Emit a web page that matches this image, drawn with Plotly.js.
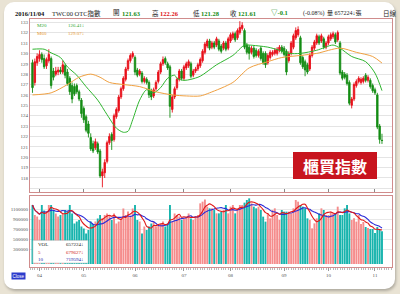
<!DOCTYPE html>
<html><head><meta charset="utf-8">
<script src="https://cdn.plot.ly/plotly-3.0.1.min.js"></script>
<style>
html,body{margin:0;padding:0;width:400px;height:294px;overflow:hidden;background:#e9e3d4;}
#panel{position:absolute;left:4px;top:2px;width:391px;height:287px;background:#fff;border-radius:10px;box-shadow:1px 2px 3px rgba(0,0,0,0.25);}
#chart{position:absolute;left:0;top:0;width:400px;height:294px;}
</style></head><body>
<div id="panel"></div><div id="chart"></div>
<script>
// ---- data (daily candles, index 0 = late March 2016, last = 2016/11/04) ----
const openP = [129.1,127.2,129.1,129.5,129.9,129.5,128.8,129.3,129.5,128.3,128.0,128.2,128.4,128.2,128.8,128.2,127.6,126.9,126.8,126.9,
126.3,125.5,124.7,123.9,123.2,121.9,121.3,120.9,121.3,120.6,118.2,118.5,119.6,121.4,122.2,121.7,123.9,124.5,125.8,126.6,
127.5,128.5,129.3,129.7,129.6,128.4,128.0,128.1,127.3,127.5,127.2,126.4,125.9,126.6,127.3,128.2,129.0,129.5,129.0,128.7,
124.6,125.8,126.7,127.5,128.3,127.6,128.6,128.8,129.0,127.9,128.3,128.5,128.8,129.3,130.1,130.7,131.2,130.6,131.0,130.8,
131.2,130.7,130.5,131.0,130.5,131.2,131.5,131.9,131.5,132.0,132.4,132.2,130.8,130.6,130.1,130.5,130.3,129.8,130.5,130.0,
130.0,129.1,129.6,129.9,130.0,130.0,130.3,130.6,130.5,130.2,129.3,130.0,130.6,131.5,131.8,131.5,129.6,129.2,128.9,128.5,
129.8,130.5,131.0,131.6,131.2,131.4,130.6,131.0,131.4,131.6,131.8,131.3,131.0,128.2,128.0,127.9,127.2,125.0,125.6,126.9,
127.3,127.2,127.3,127.9,127.4,127.4,126.9,126.5,126.0,123.0,121.63];
const highP = [129.4,129.5,130.0,130.3,130.1,129.9,129.6,130.4,129.7,128.6,128.7,128.7,128.7,129.3,129.0,128.5,127.8,127.2,127.1,127.1,
126.5,125.7,124.9,124.1,123.5,122.3,121.6,121.8,121.5,120.8,118.9,119.8,121.6,122.3,122.4,124.2,124.8,126.0,126.8,127.8,
128.7,129.5,130.0,130.2,129.8,128.6,128.5,128.3,127.8,127.7,127.4,126.6,126.7,127.4,128.4,129.2,129.7,129.7,129.2,128.9,
126.0,126.8,127.7,128.5,128.5,128.9,129.2,129.4,129.2,128.5,128.7,129.1,129.6,130.4,131.1,131.4,131.4,131.2,131.2,131.6,
131.4,130.9,131.2,131.2,131.6,132.0,132.1,132.1,132.4,133.1,133.0,132.4,131.0,130.8,130.7,130.7,130.5,130.4,130.7,130.2,
130.2,130.0,130.3,130.3,130.5,130.6,130.8,130.8,130.7,130.4,130.2,131.2,131.9,132.5,132.6,131.7,129.8,129.4,129.1,130.0,
130.8,131.3,131.9,131.8,131.9,131.6,131.2,131.8,132.0,132.1,132.0,132.2,131.2,128.4,128.2,128.1,127.4,125.8,127.2,127.5,
127.8,127.7,127.8,128.1,127.9,127.6,127.1,126.7,126.2,123.2,122.26];
const lowP = [126.2,126.9,128.8,129.2,129.1,128.5,128.5,129.1,126.6,127.4,127.8,127.9,128.0,128.0,127.6,126.9,126.0,125.2,125.9,126.1,
125.4,123.8,123.3,122.4,121.9,120.6,120.4,120.7,120.3,118.0,117.1,118.0,119.4,121.2,120.7,121.5,123.7,124.3,125.6,126.4,
127.3,128.3,129.1,129.5,127.9,127.7,127.8,127.1,127.1,127.0,125.7,125.5,125.7,126.4,127.1,128.0,128.8,128.9,128.4,123.8,
124.3,125.6,126.5,127.3,127.4,127.4,128.4,128.6,127.6,127.7,128.1,128.3,128.6,129.1,129.9,130.5,130.3,130.4,130.4,130.6,
130.2,130.0,130.3,130.2,130.3,131.0,131.3,131.1,131.3,131.8,132.2,130.4,129.9,129.4,129.9,129.5,129.6,129.6,129.3,128.9,
128.6,128.9,129.4,129.7,129.8,129.8,130.1,130.0,129.7,127.9,129.1,129.8,130.4,131.3,131.6,128.9,128.5,127.8,128.0,128.3,
129.6,130.3,130.8,130.8,131.0,130.4,130.4,130.8,131.2,131.4,130.9,131.1,127.9,127.4,127.5,126.9,125.0,124.7,125.4,126.7,
127.1,127.0,127.1,127.2,127.2,126.6,126.2,126.0,122.7,121.3,121.28];
const closeP = [126.7,129.2,129.7,129.9,129.4,128.7,129.4,129.9,126.9,127.7,128.3,128.4,128.2,128.9,127.9,127.1,126.3,125.6,126.1,126.3,
125.6,124.2,123.6,122.6,122.3,120.8,120.6,121.5,120.5,118.2,118.6,119.5,121.4,122.0,121.6,124.0,124.6,125.8,126.6,127.6,
128.5,129.3,129.8,130.0,128.2,127.9,128.3,127.3,127.6,127.2,126.0,125.8,126.5,127.2,128.2,129.0,129.4,129.1,128.6,124.9,
125.8,126.6,127.5,128.3,127.6,128.7,129.0,129.2,127.8,128.3,128.5,128.9,129.4,130.2,130.9,131.2,130.5,131.0,130.6,131.4,
130.4,130.2,131.0,130.4,131.4,131.8,131.9,131.3,132.2,132.5,132.7,130.6,130.1,130.0,130.5,129.7,129.8,130.2,129.5,129.1,
128.9,129.8,130.1,130.1,130.3,130.4,130.6,130.2,129.9,128.2,130.0,131.0,131.7,132.2,132.3,129.1,128.7,128.4,128.2,129.8,
130.6,131.1,131.7,131.0,131.7,130.6,131.0,131.6,131.8,131.9,131.1,132.0,128.1,127.6,127.7,127.1,125.2,125.6,127.0,127.3,
127.6,127.5,127.6,127.4,127.7,126.8,126.4,126.2,122.9,121.7,121.61];
const volume = [1180000,980000,950000,880000,1180000,1070000,1050000,1180000,1180000,1080000,1010000,950000,980000,1010000,1080000,1050000,1180000,1010000,810000,850000,
880000,750000,710000,610000,680000,850000,800000,850000,910000,980000,920000,980000,1010000,980000,880000,1010000,810000,850000,910000,1110000,
980000,1050000,950000,1110000,1180000,880000,850000,610000,750000,680000,750000,810000,850000,750000,780000,810000,850000,750000,810000,1180000,
850000,1010000,980000,950000,880000,910000,950000,1010000,910000,880000,950000,980000,1213000,1247000,1290000,1147000,1113000,1113000,1080000,1013000,
1013000,1047000,1080000,1180000,1013000,1147000,1180000,1013000,1113000,1180000,1180000,1227000,1280000,1313000,1213000,1147000,1113000,1147000,1080000,947000,
847000,1013000,913000,1080000,1113000,980000,880000,1080000,1047000,1047000,1047000,1013000,1113000,1280000,1247000,1180000,1147000,1113000,913000,880000,
713000,813000,913000,1013000,1113000,1080000,980000,980000,1047000,1013000,1013000,1147000,980000,980000,1113000,1180000,1013000,880000,913000,847000,
980000,800000,840000,740000,720000,700000,700000,620000,740000,680000,657224];
// moving averages (index, value)
const m20Idx = [0,5,8,12,15,19,23,28,32,36,39,41,43,46,49,52,55,58,61,62,65,68,72,79,86,91,93,101,106,110,115,122,129,132,137,143,147,150];
const m20Val = [130.4,130.4,130.05,129.6,128.7,127.9,126.8,125.5,124.1,122.8,122.4,122.5,123.6,125.5,126.5,126.2,126.7,127.6,127.9,127.6,127.4,127.5,127.8,128.9,129.8,130.8,130.8,130.6,130.3,130.0,130.0,130.3,130.8,130.5,129.7,129.2,128.1,126.41];
const m60Idx = [0,8,15,20,25,29,33,39,46,53,60,66,72,76,86,93,101,107,115,122,132,139,146,150];
const m60Val = [126.0,126.2,127.0,127.7,128.0,127.7,127.2,127.0,126.8,126.3,126.0,125.9,125.9,126.2,127.2,128.6,129.2,129.6,129.8,130.0,130.5,130.1,129.7,129.07];
const monthIdx = [3,22,44,65,85,108,127,147];
const monthLabels = ['04','05','06','07','08','09','10','11'];
const priceTicks = [117,118,119,120,121,122,123,124,125,126,127,128,129,130,131,132,133];
const priceLabels = ['','118','119','120','121','122','123','124','125','126','127','128','129','130','131','132','133'];
const volTicks = [300000,500000,700000,900000,1100000];

// ---- derived ----
const idx = closeP.map((_, i) => i);
function movAvg(arr, n) {
  return arr.map((_, i) => {
    const s = Math.max(0, i - n + 1);
    const w = arr.slice(s, i + 1);
    return w.reduce((a, b) => a + b, 0) / w.length;
  });
}
const vma5 = movAvg(volume, 5), vma10 = movAvg(volume, 10);
const volColors = closeP.map((c, i) => c >= openP[i] ? '#f58c8c' : '#17b4ad');

const W = 400, H = 294;
const px = x => x / W, py = y => 1 - y / H;
const xr = [-1.07, 154.3];
const serif = '"Liberation Serif","Noto Sans CJK TC",serif';

const traces = [
  {type:'candlestick', x:idx, open:openP, high:highP, low:lowP, close:closeP,
   increasing:{line:{color:'#e8101a', width:0.9}, fillcolor:'#e8101a'},
   decreasing:{line:{color:'#148c14', width:0.9}, fillcolor:'#148c14'},
   whiskerwidth:0, hoverinfo:'skip', xaxis:'x', yaxis:'y'},
  {type:'scatter', mode:'lines', x:m20Idx, y:m20Val, line:{color:'#2fb52f', width:1, shape:'spline', smoothing:0.8}, xaxis:'x', yaxis:'y', hoverinfo:'skip'},
  {type:'scatter', mode:'lines', x:m60Idx, y:m60Val, line:{color:'#f0a040', width:1, shape:'spline', smoothing:0.8}, xaxis:'x', yaxis:'y', hoverinfo:'skip'},
  {type:'bar', x:idx, y:volume, marker:{color:volColors, line:{width:0}}, xaxis:'x2', yaxis:'y2', hoverinfo:'skip'},
  {type:'scatter', mode:'lines', x:idx, y:vma10, line:{color:'#2a2ad8', width:1.1, shape:'spline'}, xaxis:'x2', yaxis:'y2', hoverinfo:'skip'},
  {type:'scatter', mode:'lines', x:idx, y:vma5, line:{color:'#e01818', width:1.1, shape:'spline'}, xaxis:'x2', yaxis:'y2', hoverinfo:'skip'}
];

const border = '#d08c8c';
const ann = (x, y, text, opt) => Object.assign({xref:'paper', yref:'paper', x:px(x), y:py(y), text, showarrow:false,
  xanchor:'left', yanchor:'middle', font:{family:serif, size:6, color:'#222'}}, opt || {});

const annotations = [
  ann(13, 13, '<b>2016/11/04</b>', {font:{family:serif, size:6.5, color:'#111'}}),
  ann(50, 13, 'TWC00 OTC指數', {font:{family:serif, size:6.5, color:'#222'}}),
  ann(111, 13, '開', {font:{family:serif, size:6.5, color:'#222'}}),
  ann(120, 13, '<b>121.63</b>', {font:{family:serif, size:6.5, color:'#138a13'}}),
  ann(150, 13, '高', {font:{family:serif, size:6.5, color:'#222'}}),
  ann(158, 13, '<b>122.26</b>', {font:{family:serif, size:6.5, color:'#e01018'}}),
  ann(191, 13, '低', {font:{family:serif, size:6.5, color:'#222'}}),
  ann(199, 13, '<b>121.28</b>', {font:{family:serif, size:6.5, color:'#138a13'}}),
  ann(228, 13, '收', {font:{family:serif, size:6.5, color:'#222'}}),
  ann(236, 13, '<b>121.61</b>', {font:{family:serif, size:6.5, color:'#138a13'}}),
  ann(269, 13, '<b>▽-0.1</b>', {font:{family:serif, size:6.5, color:'#138a13'}}),
  ann(301, 13, '(-0.08%)', {font:{family:serif, size:6, color:'#222'}}),
  ann(325, 13, '量 657224↓張', {font:{family:serif, size:6, color:'#222'}}),
  ann(381, 13, '日線', {font:{family:serif, size:6.5, color:'#222'}}),
  // MA legend
  ann(35, 26, 'M20', {font:{family:serif, size:5, color:'#2fa82f'}}),
  ann(66, 26, '126.41↓', {font:{family:serif, size:5, color:'#2fa82f'}}),
  ann(35, 33, 'M60', {font:{family:serif, size:5, color:'#e8982e'}}),
  ann(66, 33, '129.07↓', {font:{family:serif, size:5, color:'#e8982e'}}),
  // big label
  ann(335, 166, '<b>櫃買指數</b>', {xanchor:'center', font:{family:'"Noto Sans CJK TC",sans-serif', size:16, color:'#ffffff'}}),
  // volume legend
  ann(36, 244.5, 'VOL', {font:{family:serif, size:5, color:'#222'}}),
  ann(86, 244.5, '657224↓', {xanchor:'right', font:{family:serif, size:5, color:'#222'}}),
  ann(36, 252, '5', {font:{family:serif, size:5, color:'#d01818'}}),
  ann(86, 252, '679627↓', {xanchor:'right', font:{family:serif, size:5, color:'#d01818'}}),
  ann(36, 259.5, '10', {font:{family:serif, size:5, color:'#2222aa'}}),
  ann(86, 259.5, '719594↓', {xanchor:'right', font:{family:serif, size:5, color:'#2222aa'}}),
  ann(18.5, 275.5, 'Close', {xanchor:'center', bgcolor:'#2c3ccc', borderpad:0.5, font:{family:'Liberation Sans,sans-serif', size:4.5, color:'#ffffff'}})
];

const shapes = [
  {type:'rect', xref:'paper', yref:'paper', x0:px(293), x1:px(377), y0:py(179), y1:py(152), fillcolor:'#c8141e', line:{width:0}, layer:'above'},
  {type:'rect', xref:'paper', yref:'paper', x0:px(33), x1:px(88), y0:py(263), y1:py(240.5), fillcolor:'#ffffff', line:{color:'#c8c8c8', width:0.6}, layer:'above'}
];

const layout = {
  width:W, height:H, margin:{l:0, r:0, t:0, b:0},
  paper_bgcolor:'rgba(0,0,0,0)', plot_bgcolor:'#ffffff',
  showlegend:false, bargap:0.18, boxgap:0.12,
  xaxis:{domain:[px(30), px(392)], range:xr, anchor:'y', tickmode:'array', tickvals:monthIdx, showticklabels:false,
         ticks:'inside', ticklen:3, tickcolor:'#888', showgrid:false, zeroline:false,
         showline:true, mirror:true, linecolor:border, linewidth:1, rangeslider:{visible:false}, fixedrange:true},
  yaxis:{domain:[py(192), py(19)], range:[116.65, 133.31], anchor:'x', tickmode:'array', tickvals:priceTicks, ticktext:priceLabels,
         ticks:'', showgrid:true, gridcolor:'#e4e4e4', gridwidth:1, zeroline:false, showline:true, mirror:true, linecolor:border, linewidth:1,
         tickfont:{family:serif, size:5, color:'#555'}, fixedrange:true},
  xaxis2:{domain:[px(30), px(392)], range:xr, anchor:'y2', tickmode:'array', tickvals:monthIdx, ticktext:monthLabels,
          ticks:'outside', ticklen:3, tickcolor:'#999', showgrid:false, zeroline:false, showline:true, mirror:true, linecolor:border, linewidth:1,
          minor:{tickmode:'linear', tick0:0, dtick:1, ticks:'outside', ticklen:1.5, tickcolor:'#bbb'},
          tickfont:{family:serif, size:5, color:'#555'}, fixedrange:true},
  yaxis2:{domain:[py(267), py(196)], range:[-60000, 1360000], anchor:'x2', tickmode:'array', tickvals:volTicks, tickformat:'d',
          ticks:'', showgrid:true, gridcolor:'#e8e8e8', zeroline:false, showline:true, mirror:true, linecolor:border, linewidth:1,
          tickfont:{family:serif, size:5, color:'#555'}, fixedrange:true},
  annotations, shapes
};
Plotly.newPlot('chart', traces, layout, {staticPlot:true, displayModeBar:false});
</script>
</body></html>
